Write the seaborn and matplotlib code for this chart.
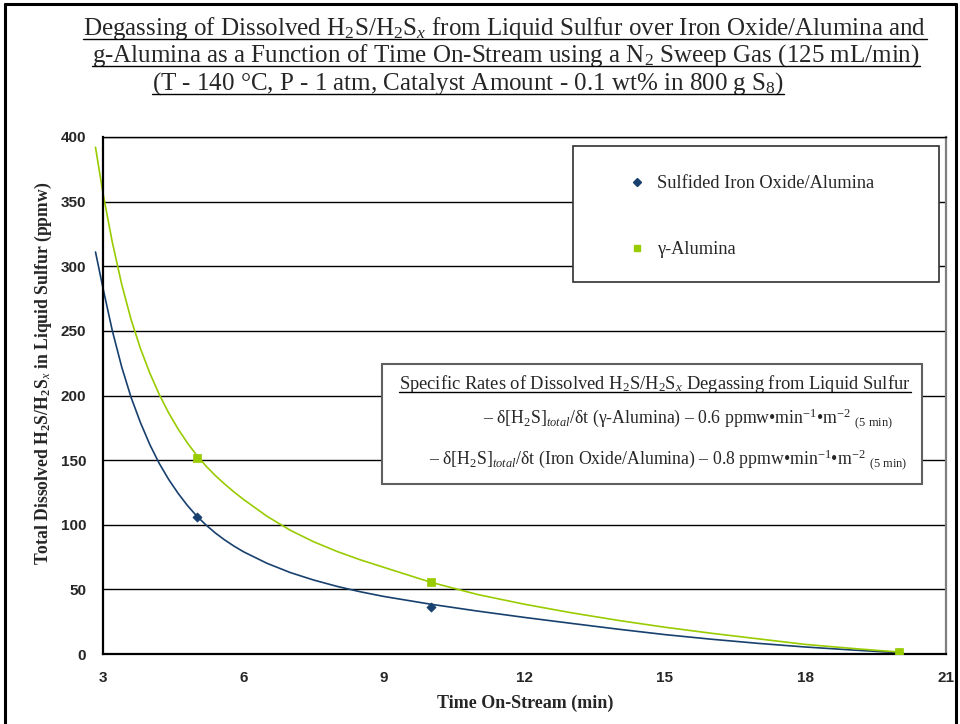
import matplotlib
matplotlib.use("Agg")
import matplotlib.pyplot as plt
import seaborn as sns
from matplotlib.lines import Line2D
from matplotlib.patches import Rectangle

# measured points
time_pts = [5, 10, 20]
iron_pts = [106, 36, 1]
gamma_pts = [152, 56, 1.5]

# trend curves
iron_curve_t = [2.84, 3.0, 3.2, 3.4, 3.6, 3.8, 4.0, 4.2, 4.4, 4.6, 4.8, 5.0, 5.2, 5.4, 5.6,
                5.8, 6.0, 6.5, 7.0, 7.5, 8.0, 8.5, 9.0, 10, 11, 12, 13, 14, 15, 16, 17, 18, 19, 20]
iron_curve_v = [311, 283, 250, 222, 198.5, 179, 162, 147.5, 135.2, 124.5, 115, 106.8, 99.8, 93.6, 88.2,
                83.4, 79.1, 70.2, 63, 57.2, 52.3, 48.1, 44.5, 38.5, 33.2, 28.3, 23.7, 19.2, 15, 11.4, 8.2, 5.4, 3.1, 1]
gamma_curve_t = [2.84, 3.0, 3.2, 3.4, 3.6, 3.8, 4.0, 4.2, 4.4, 4.6, 4.8, 5.0, 5.2, 5.4, 5.6,
                 5.8, 6.0, 6.5, 7.0, 7.5, 8.0, 8.5, 9.0, 10, 11, 12, 13, 14, 15, 16, 17, 18, 19, 20]
gamma_curve_v = [392, 356.4, 318.4, 285.9, 258.7, 236.3, 217.3, 200.9, 186.7, 174.3, 163.4, 153.8, 145.4, 138, 131.4,
                 125.3, 119.6, 106.6, 95.7, 86.8, 79.3, 72.8, 67, 55.5, 46, 38.5, 31.9, 26, 20.7, 16, 11.7, 7.4, 4.3, 1.5]

x_ticks = [3, 6, 9, 12, 15, 18, 21]
y_ticks = [0, 50, 100, 150, 200, 250, 300, 350, 400]

blue = "#17406f"
green = "#99cc00"

sns.set_style("white")
plt.rcParams["font.family"] = ["Liberation Serif", "DejaVu Serif"]
plt.rcParams["mathtext.fontset"] = "custom"
plt.rcParams["mathtext.rm"] = "Liberation Serif"
plt.rcParams["mathtext.it"] = "Liberation Serif:italic"
plt.rcParams["mathtext.bf"] = "Liberation Serif:bold"

W, H = 960, 724
fig = plt.figure(figsize=(9.6, 7.24), dpi=100)
ax = fig.add_axes([103 / W, 70 / H, 843 / W, 517 / H])

def fx(px):
    return px / W

def fy(py):
    return 1 - py / H

# trend lines
sns.lineplot(x=iron_curve_t, y=iron_curve_v, sort=False, color=blue, lw=1.2, ax=ax)
sns.lineplot(x=gamma_curve_t, y=gamma_curve_v, sort=False, color=green, lw=1.2, ax=ax)
for ln in ax.lines:
    ln.set_clip_on(False)

sns.scatterplot(x=time_pts, y=iron_pts, marker="D", s=22, color=blue, edgecolor=blue,
                linewidth=0.5, ax=ax, zorder=3)
sns.scatterplot(x=time_pts, y=gamma_pts, marker="s", s=30, color=green, edgecolor=green,
                linewidth=0.5, ax=ax, zorder=4)

ax.set_xlim(3, 21)
ax.set_ylim(0, 400)
ax.set_xticks(x_ticks)
ax.set_yticks(y_ticks)
ax.yaxis.grid(True, color="black", lw=1)
ax.set_axisbelow(True)
for lab in ax.get_xticklabels() + ax.get_yticklabels():
    lab.set_family("Liberation Sans")
    lab.set_weight("bold")
    lab.set_fontsize(11)
ax.tick_params(axis="both", direction="out", length=5, width=1, color="black", pad=7)
ax.spines["left"].set_linewidth(1.6)
ax.spines["left"].set_color("black")
ax.spines["bottom"].set_linewidth(1.6)
ax.spines["bottom"].set_color("black")
ax.spines["top"].set_linewidth(1)
ax.spines["top"].set_color("black")
ax.spines["right"].set_linewidth(1.6)
ax.spines["right"].set_color("#7f7f7f")
ax.set_xlabel("")
ax.set_ylabel("")

# axis titles
fig.text(fx(43), fy(373), r"Total Dissolved H$_\mathbf{2}$S/H$_\mathbf{2}$S$_{x}$ in Liquid Sulfur (ppmw)",
         rotation=90, ha="center", va="center", fontsize=12.7, weight="bold")
fig.text(fx(525), fy(703), "Time On-Stream (min)", ha="center", va="center",
         fontsize=13, weight="bold")

# title (underlined)
title_lines = [
    r"Degassing of Dissolved H$_2$S/H$_2$S$_x$ from Liquid Sulfur over Iron Oxide/Alumina and",
    r"g-Alumina as a Function of Time On-Stream using a N$_2$ Sweep Gas (125 mL/min)",
    r"(T - 140 °C, P - 1 atm, Catalyst Amount - 0.1 wt% in 800 g S$_8$)",
]
title_base = [35, 62, 90]
title_cx = [505, 506, 468]
underlined = []
for txt, yb, cx in zip(title_lines, title_base, title_cx):
    t = fig.text(fx(cx), fy(yb), txt, ha="center", va="baseline", fontsize=18)
    underlined.append((t, 3.5))

# legend box
fig.patches.append(Rectangle((fx(573), fy(282)), (939 - 573) / W, (282 - 146) / H,
                             transform=fig.transFigure, facecolor="white",
                             edgecolor="#303030", lw=1.2, zorder=4))
handles = [Line2D([], [], marker="D", ls="none", color=blue, markersize=4),
           Line2D([], [], marker="s", ls="none", color=green, markersize=5)]
fig.legend(handles, ["Sulfided Iron Oxide/Alumina", "γ-Alumina"], loc="upper left",
           bbox_to_anchor=(fx(628), fy(175)), frameon=False, borderpad=0, borderaxespad=0,
           handlelength=1.0, handletextpad=0.59, labelspacing=2.68,
           prop={"family": "Liberation Serif", "size": 13.2})

# rate box
fig.patches.append(Rectangle((fx(382), fy(484)), (922 - 382) / W, (484 - 364) / H,
                             transform=fig.transFigure, facecolor="white",
                             edgecolor="#606060", lw=1.5, zorder=4))
rate_lines = [
    r"Specific Rates of Dissolved H$_2$S/H$_2$S$_x$ Degassing from Liquid Sulfur",
    r"– δ[H$_2$S]$_{total}$/δt (γ-Alumina) – 0.6 ppmw•min$^{-1}$•m$^{-2}$ $_{\mathrm{(5\ min)}}$",
    r"– δ[H$_2$S]$_{total}$/δt (Iron Oxide/Alumina) – 0.8 ppmw•min$^{-1}$•m$^{-2}$ $_{\mathrm{(5\ min)}}$",
]
rate_base = [389, 424, 465]
rate_cx = [655, 688, 668]
rate_fs = [13.3, 12.8, 12.8]
for i, (txt, yb, cx, fs) in enumerate(zip(rate_lines, rate_base, rate_cx, rate_fs)):
    t = fig.text(fx(cx), fy(yb), txt, ha="center", va="baseline", fontsize=fs, zorder=5)
    if i == 0:
        underlined.append((t, 3))

# outer frame
for xs, ys in [([5, 5], [4, 730]), ([5, 956], [4, 4]), ([956, 956], [4, 730])]:
    fig.lines.append(Line2D([fx(v) for v in xs], [fy(v) for v in ys],
                            transform=fig.transFigure, color="black", lw=2.2))

# underlines under the text runs
fig.canvas.draw()
renderer = fig.canvas.get_renderer()
for t, off in underlined:
    bb = t.get_window_extent(renderer)
    yb = t.get_position()[1] * H - off
    fig.lines.append(Line2D([bb.x0 / W, bb.x1 / W], [yb / H, yb / H],
                            transform=fig.transFigure, color="black", lw=1, zorder=6))

fig.savefig("out.png", dpi=100)
